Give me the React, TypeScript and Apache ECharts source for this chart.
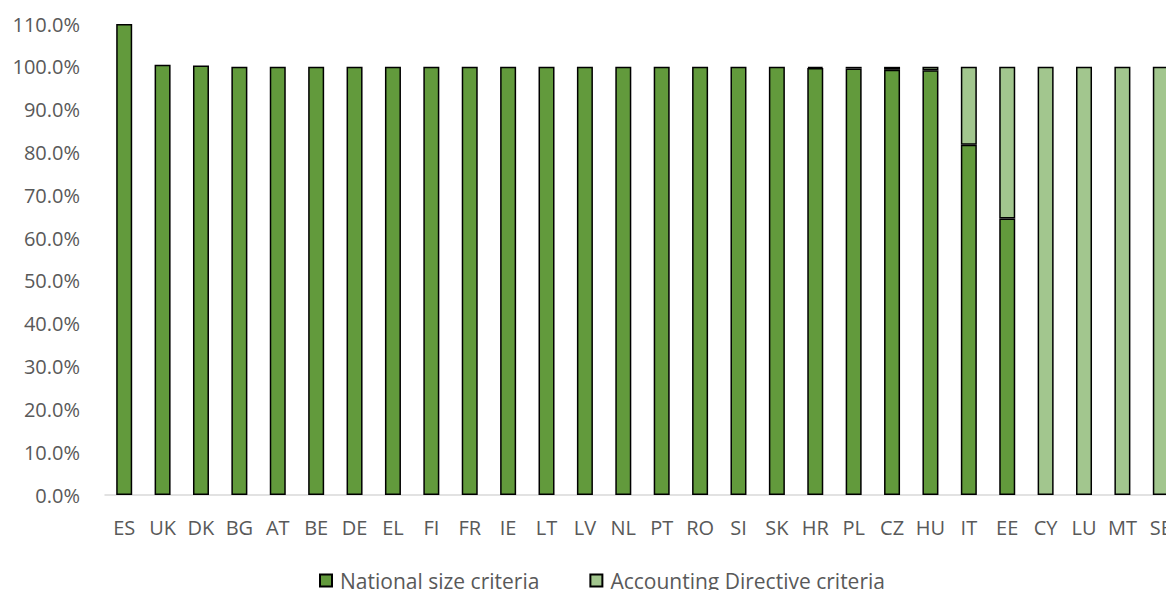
import React, { useEffect, useRef } from "react";
import * as echarts from "echarts";

const countries = [
  "ES", "UK", "DK", "BG", "AT", "BE", "DE", "EL", "FI", "FR", "IE", "LT", "LV", "NL",
  "PT", "RO", "SI", "SK", "HR", "PL", "CZ", "HU", "IT", "EE", "CY", "LU", "MT", "SE",
];

// Share of companies classified under national size criteria (%); null = no share
const nationalCriteria = [
  110.0, 100.5, 100.3, 100.0, 100.0, 100.0, 100.0, 100.0, 100.0, 100.0, 100.0, 100.0, 100.0, 100.0,
  100.0, 100.0, 100.0, 100.0, 99.7, 99.6, 99.3, 99.2, 81.8, 64.6, null, null, null, null,
];

// Share of companies classified under the Accounting Directive criteria (%)
const directiveCriteria = [
  null, null, null, null, null, null, null, null, null, null, null, null, null, null,
  null, null, null, null, 0.3, 0.4, 0.7, 0.8, 18.2, 35.4, 100.0, 100.0, 100.0, 100.0,
];

const seriesNames = ["National size criteria", "Accounting Directive criteria"];
const FONT = "'Open Sans', 'Noto Sans', sans-serif";

export default function App() {
  const ref = useRef<HTMLDivElement>(null);

  useEffect(() => {
    if (!ref.current) return;
    const chart = echarts.init(ref.current, undefined, { renderer: "svg" });
    const barStyle = (color: string) => ({
      color,
      borderColor: "#000000",
      borderWidth: 1.5,
    });
    chart.setOption({
      animation: false,
      backgroundColor: "#ffffff",
      grid: { left: 105, right: 20, top: 24, bottom: 95, containLabel: false },
      legend: {
        top: 565,
        left: 314,
        itemGap: 50,
        itemWidth: 12,
        itemHeight: 12,
        textStyle: { fontFamily: FONT, fontSize: 21, color: "#595959", padding: [0, 0, 0, 3] },
        data: seriesNames.map((n) => ({ name: n, icon: "rect" })),
      },
      xAxis: {
        type: "category",
        data: countries,
        axisLine: { lineStyle: { color: "#d9d9d9", width: 1.5 } },
        axisTick: { show: false },
        axisLabel: {
          fontFamily: FONT,
          fontSize: 20,
          color: "#595959",
          margin: 22,
          interval: 0,
        },
      },
      yAxis: {
        type: "value",
        min: 0,
        max: 110,
        interval: 10,
        splitLine: { show: false },
        axisLine: { show: false },
        axisTick: { show: false },
        axisLabel: {
          fontFamily: FONT,
          fontSize: 20,
          color: "#595959",
          margin: 25,
          formatter: (v: number) => v.toFixed(1) + "%",
        },
      },
      series: [
        {
          name: seriesNames[0],
          type: "bar",
          stack: "total",
          barWidth: 16,
          data: nationalCriteria,
          itemStyle: barStyle("#629a3c"),
        },
        {
          name: seriesNames[1],
          type: "bar",
          stack: "total",
          barWidth: 16,
          data: directiveCriteria,
          itemStyle: barStyle("#a2c68e"),
        },
      ],
    });
    return () => chart.dispose();
  }, []);

  return (
    <div
      style={{
        position: "fixed",
        left: 0,
        top: 0,
        width: 1166,
        height: 590,
        overflow: "hidden",
        background: "#ffffff",
      }}
    >
      <div ref={ref} style={{ width: 1200, height: 590 }} />
    </div>
  );
}
